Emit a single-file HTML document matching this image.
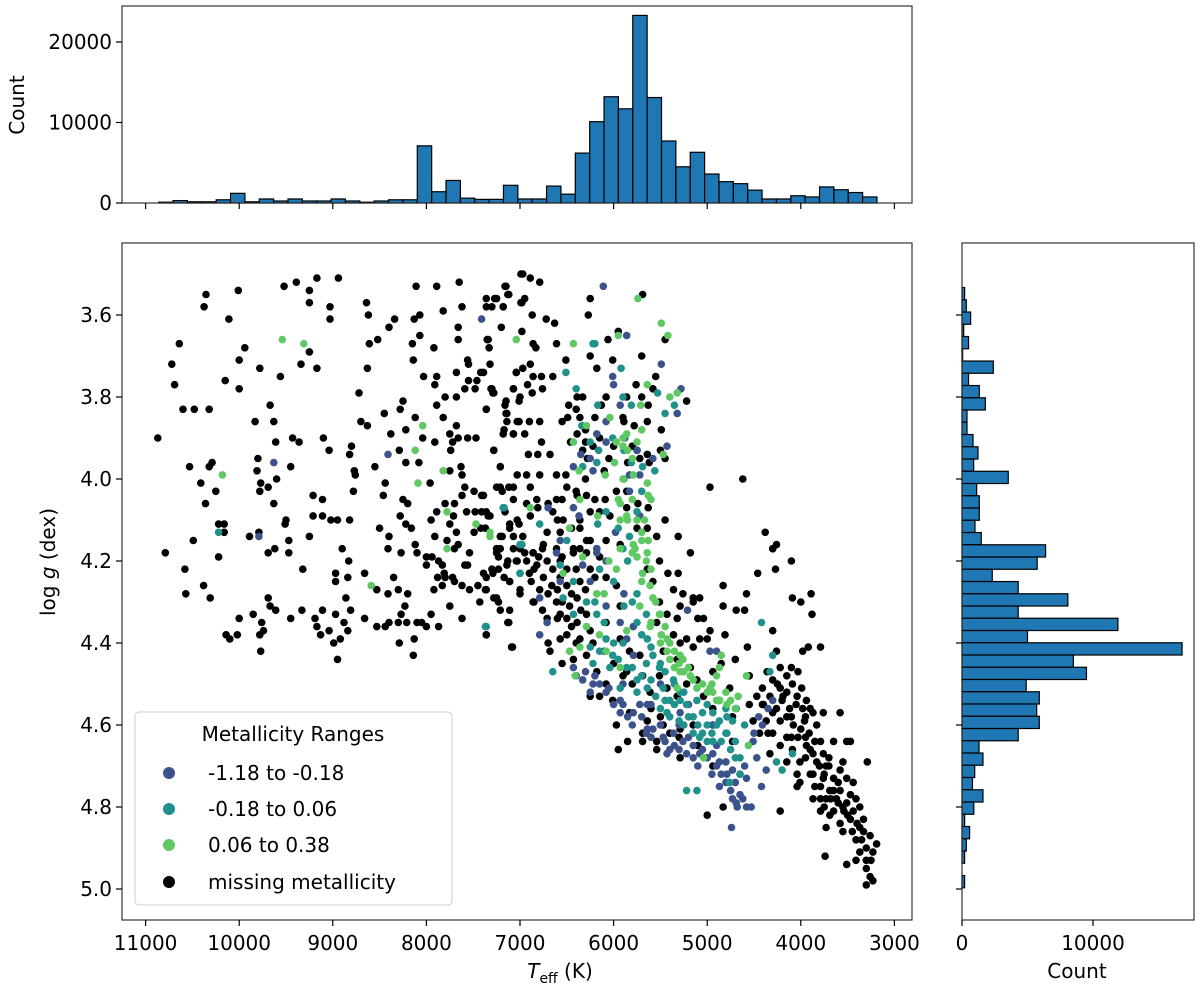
<!DOCTYPE html>
<html><head><meta charset="utf-8"><style>
body{margin:0;background:#fff;}
svg{display:block;font-family:"DejaVu Sans",sans-serif;}
</style></head><body>
<svg id="fig" width="1200" height="990" viewBox="0 0 1200 990" xmlns="http://www.w3.org/2000/svg">
<rect width="1200" height="990" fill="#fff"/>
<g id="scatter"></g>
<g id="tophist"></g>
<g id="righthist"></g>
<g id="axes"></g>
</svg>
<script>
// ---- data ----
const teffCounts=[0.1,0.3,0.15,0.15,0.4,1.2,0.15,0.5,0.25,0.5,0.25,0.25,0.5,0.25,0.1,0.25,0.4,0.4,7.1,1.4,2.8,0.6,0.45,0.45,2.2,0.5,0.5,2.1,1.1,6.2,10.1,13.2,11.7,23.3,13.1,7.7,4.5,6.3,3.6,2.65,2.4,1.6,0.5,0.5,0.9,0.75,2.0,1.65,1.3,0.75];
const teffRange=[10860,3186];
const loggCounts=[0.2,0.33,0.66,0.13,0.5,0.05,2.39,0.5,1.32,1.78,0.38,0.38,0.84,1.22,0.89,3.53,1.12,1.32,1.32,0.99,1.47,6.38,5.74,2.31,4.29,8.08,4.29,11.9,5.0,16.8,8.5,9.5,4.9,5.9,5.7,5.9,4.29,1.3,1.6,0.97,0.8,1.6,0.9,0.2,0.58,0.33,0.2,0,0.2];
const loggRange=[3.533,4.997];
const xTicks=[11000,10000,9000,8000,7000,6000,5000,4000,3000];
const yTicks=[3.6,3.8,4.0,4.2,4.4,4.6,4.8,5.0];
const countTicksTop=[0,10000,20000];
const countTicksRight=[0,10000];
const lowPts=[[7410,3.61],[8410,3.94],[9630,3.96],[9790,4.14],[6110,3.53],[5860,3.65],[5490,3.72],[6010,3.75],[6000,3.77],[5930,3.82],[5280,3.78],[5320,3.84],[6080,3.86],[6180,3.89],[5880,3.90],[6080,3.91],[6350,3.94],[6250,3.95],[5750,3.93],[5580,3.95],[5430,3.92],[6430,3.97],[6220,3.98],[5830,3.99],[5720,3.99],[6700,4.07],[6430,4.07],[6370,4.09],[5980,4.13],[5720,4.09],[6180,4.18],[6570,4.15],[5830,4.03],[6790,4.38],[6710,4.35],[6570,4.25],[6330,4.21],[6250,4.25],[6080,4.20],[6080,4.31],[5930,4.35],[5890,4.28],[5860,4.39],[5790,4.36],[5790,4.43],[6330,4.49],[6220,4.50],[6080,4.52],[5930,4.54],[5790,4.57],[5720,4.55],[5640,4.55],[5580,4.61],[5470,4.63],[5360,4.62],[5260,4.64],[5150,4.65],[5080,4.67],[5430,4.67],[5220,4.67],[4940,4.67],[4870,4.69],[4790,4.72],[4730,4.71],[4650,4.72],[4580,4.73],[4870,4.75],[4730,4.78],[4650,4.77],[4580,4.80],[4530,4.80],[4690,4.79],[4740,4.85],[4420,4.75],[4370,4.71],[4470,4.68],[4510,4.64],[4410,4.60],[4300,4.54],[4970,4.42],[4900,4.42],[5210,4.32],[6790,4.29],[6430,4.46],[6250,4.52],[5930,4.57],[5640,4.61],[5290,4.57],[4940,4.60],[6610,4.18],[6180,4.17]];
const lowPtsExtra=[[6400,4.48],[6300,4.47],[6200,4.48],[6150,4.50],[6050,4.51],[6000,4.55],[5900,4.55],[5850,4.58],[5800,4.60],[5700,4.58],[5650,4.62],[5600,4.63],[5500,4.60],[5450,4.64],[5400,4.66],[5350,4.65],[5300,4.66],[5200,4.63],[5150,4.68],[5100,4.70],[5050,4.66],[5000,4.68],[4950,4.72],[4900,4.70],[4850,4.72],[4800,4.74],[4750,4.76],[4700,4.74],[4680,4.80],[4620,4.78],[4800,4.69],[4900,4.65],[5300,4.60],[5600,4.55],[5900,4.50],[6100,4.42],[5500,4.50],[5200,4.55],[4600,4.70],[4500,4.62],[4450,4.58],[4350,4.56]];
const midPts=[[10220,4.13],[7170,4.07],[7360,4.36],[7000,4.23],[6220,3.67],[6200,3.67],[6510,3.74],[5920,3.73],[6400,3.78],[5900,3.80],[5810,3.82],[5350,3.82],[5450,3.84],[5530,3.79],[6170,3.82],[6340,3.87],[6010,3.90],[6250,3.91],[6160,3.93],[5890,3.93],[5560,3.98],[6330,3.97],[6180,3.96],[5810,3.96],[5690,3.97],[5890,4.00],[7180,4.07],[6790,4.11],[6170,4.11],[6080,4.08],[5830,4.14],[5750,4.08],[5900,4.17],[6500,4.15],[7000,4.16],[6980,4.16],[5700,4.03],[7370,4.36],[6650,4.47],[6570,4.21],[6430,4.25],[6290,4.30],[6180,4.33],[6080,4.39],[6010,4.43],[5890,4.31],[5860,4.46],[5750,4.49],[5640,4.51],[5750,4.35],[5640,4.39],[5580,4.43],[5510,4.46],[5400,4.54],[5290,4.54],[5220,4.55],[5110,4.54],[5000,4.55],[4940,4.57],[4870,4.59],[4790,4.58],[4730,4.59],[4690,4.56],[4790,4.62],[4940,4.64],[5080,4.63],[5150,4.58],[4760,4.74],[4650,4.72],[5220,4.76],[5110,4.76],[4420,4.35],[4300,4.43],[4330,4.47],[4260,4.69],[4200,4.71],[4090,4.67],[5930,4.51],[6040,4.46],[6150,4.42],[6220,4.45],[6430,4.33],[6250,4.41],[5470,4.51],[5360,4.49],[5290,4.52],[5430,4.57],[5000,4.60],[6540,4.29],[7000,4.23]];
const midPtsExtra=[[6200,4.30],[6100,4.35],[6000,4.40],[5950,4.44],[5900,4.40],[5800,4.46],[5750,4.52],[5700,4.48],[5650,4.45],[5600,4.49],[5550,4.53],[5500,4.56],[5450,4.54],[5400,4.58],[5350,4.55],[5300,4.59],[5250,4.60],[5200,4.58],[5150,4.62],[5100,4.60],[5050,4.62],[5000,4.64],[4950,4.62],[4900,4.60],[4850,4.64],[4800,4.62],[4750,4.66],[4700,4.64],[4650,4.68],[4600,4.60],[5800,4.30],[5700,4.38],[5600,4.41],[5500,4.45],[6000,4.25],[6150,4.22],[5850,4.20],[5950,4.12],[5750,4.28],[5650,4.33],[5450,4.47],[5350,4.50],[5250,4.52],[5050,4.57],[4800,4.56],[4700,4.68]];
const highPts=[[7040,3.66],[9540,3.66],[9310,3.67],[8040,3.87],[8120,3.93],[7820,3.98],[10180,3.99],[8090,4.01],[8590,4.26],[7780,4.08],[7470,4.11],[7320,4.14],[7780,4.17],[5740,3.56],[6430,3.67],[5950,3.65],[5490,3.62],[5420,3.65],[5640,3.77],[5710,3.82],[5400,3.80],[5320,3.79],[6040,3.85],[6290,3.87],[5970,3.91],[5860,3.89],[5750,3.91],[6430,3.91],[5900,3.92],[5850,3.93],[5470,3.94],[6370,3.98],[5990,3.96],[6090,3.99],[5790,3.99],[5640,4.01],[6890,4.07],[6470,4.12],[6170,4.09],[5930,4.10],[5860,4.09],[5700,4.13],[5670,4.10],[5630,4.15],[5770,4.17],[7320,4.13],[6360,4.05],[5930,4.06],[5630,4.04],[5790,4.16],[5750,4.19],[5640,4.18],[5690,4.23],[5610,4.26],[5580,4.29],[5720,4.31],[5510,4.33],[5610,4.36],[5430,4.39],[5430,4.42],[5400,4.44],[5260,4.44],[5290,4.47],[5110,4.51],[4970,4.51],[4940,4.52],[4870,4.54],[4790,4.55],[4900,4.48],[4870,4.46],[4850,4.43],[4670,4.53],[4580,4.48],[4560,4.65],[5040,4.68],[5860,4.37],[6080,4.42],[5930,4.46],[6150,4.38],[6290,4.36],[6360,4.41],[6470,4.42],[6410,4.48],[5970,4.22],[6180,4.28],[6330,4.19],[6540,4.23],[5930,4.17],[5490,4.38],[5320,4.51],[5180,4.48],[5290,4.43]];
const highPtsExtra=[[5900,4.00],[5800,4.05],[5750,4.10],[5700,4.15],[5650,4.20],[5600,4.22],[5550,4.30],[5500,4.33],[5450,4.36],[5400,4.40],[5350,4.42],[5300,4.45],[5250,4.47],[5200,4.46],[5150,4.49],[5050,4.50],[5000,4.52],[4950,4.50],[4900,4.54],[4800,4.52],[4750,4.54],[4700,4.56],[5600,4.35],[5700,4.25],[5800,4.18],[5850,4.10],[5950,4.05],[6050,4.20],[6100,4.28],[5500,4.40],[5350,4.46],[5800,3.95],[5900,3.90],[5700,3.88],[5600,4.05]];
const missingPts=[[10355,3.55],[10375,3.58],[10010,3.54],[10110,3.61],[10640,3.67],[10720,3.72],[10690,3.77],[10150,3.76],[10000,3.71],[10000,3.78],[9940,3.68],[9780,3.73],[9520,3.53],[9390,3.52],[9250,3.54],[9170,3.51],[8940,3.51],[9250,3.57],[9030,3.58],[9030,3.61],[9340,3.72],[9170,3.73],[9560,3.75],[9250,3.69],[10600,3.83],[10480,3.83],[10320,3.83],[10870,3.90],[9830,3.86],[9670,3.82],[9630,3.86],[9610,3.91],[9430,3.90],[9360,3.91],[9100,3.90],[9040,3.93],[8800,3.92],[8820,3.94],[8720,3.79],[8630,3.73],[8610,3.67],[8640,3.57],[8620,3.60],[8520,3.66],[8400,3.63],[8340,3.61],[8700,3.86],[8630,3.87],[8450,3.84],[8380,3.89],[8290,3.93],[8250,3.81],[8280,3.83],[8220,3.88],[8120,3.85],[8140,3.71],[8150,3.67],[8130,3.61],[8070,3.60],[8070,3.65],[8110,3.53],[8030,3.75],[7910,3.77],[7890,3.75],[7920,3.68],[7890,3.53],[7820,3.59],[7650,3.52],[7620,3.58],[7660,3.63],[7660,3.66],[7800,3.80],[7890,3.82],[7820,3.85],[8040,3.90],[7910,3.91],[7750,3.89],[7660,3.90],[7720,3.91],[7740,3.93],[7680,3.87],[7680,3.80],[7590,3.78],[7560,3.71],[7550,3.72],[7680,3.74],[7550,3.76],[7480,3.78],[7460,3.76],[7560,3.90],[7470,3.90],[7420,3.74],[7360,3.83],[7340,3.66],[7330,3.68],[7320,3.72],[7310,3.78],[7290,3.79],[7200,3.63],[7360,3.56],[7360,3.58],[7300,3.58],[7250,3.56],[7180,3.58],[7150,3.53],[7120,3.55],[6990,3.57],[6990,3.50],[7040,3.74],[7070,3.78],[7160,3.82],[7150,3.84],[7140,3.86],[7170,3.88],[7070,3.89],[7280,3.93],[7010,3.81],[7010,3.86],
[10530,3.97],[10320,3.97],[10290,3.96],[9800,3.95],[9810,3.98],[9450,3.97],[8770,3.98],[8550,3.97],[8220,3.96],[8080,3.96],[7630,3.97],[7210,3.97],
[10410,4.01],[10250,4.03],[10360,4.06],[10220,4.11],[10160,4.11],[10160,4.13],[10490,4.15],[10790,4.18],[10220,4.19],[10580,4.22],[10380,4.26],[10570,4.28],[10310,4.29],[9770,4.01],[9780,4.03],[9690,4.02],[9600,4.00],[9630,4.06],[9890,4.14],[9790,4.13],[9500,4.10],[9510,4.11],[9470,4.15],[9620,4.17],[9690,4.18],[9470,4.18],[9320,4.22],[9250,4.14],[9210,4.04],[9110,4.05],[9210,4.09],[9110,4.09],[9020,4.10],[8950,4.10],[8820,4.10],[8780,4.03],[8760,3.99],[8440,4.01],[8460,4.04],[8250,4.05],[8200,4.06],[8280,4.09],[8220,4.11],[8160,4.12],[8500,4.12],[8400,4.14],[8410,4.17],[8270,4.18],[8120,4.16],[8100,4.18],[8900,4.17],[8830,4.20],[8970,4.23],[8970,4.25],[8840,4.24],[8660,4.23],[8350,4.24],[8530,4.27],[8410,4.28],[8300,4.27],[8200,4.28],[8860,4.29],[8230,4.31],[8810,4.32],[9690,4.29],[9670,4.31],[9610,4.32],[10000,4.34],[9850,4.33],[9760,4.35],[10140,4.38],[10100,4.39],[10020,4.38],[9780,4.38],[9740,4.37],[9770,4.42],[9450,4.34],[9330,4.32],[9190,4.34],[9110,4.32],[9170,4.36],[9040,4.37],[9130,4.38],[8970,4.33],[8880,4.35],[8840,4.37],[8920,4.39],[8990,4.40],[8950,4.44],[8660,4.34],[8530,4.36],[8400,4.35],[8440,4.36],[8300,4.35],[8270,4.33],[8210,4.35],[8100,4.35],[8050,4.35],[8000,4.36],[7870,4.36],[8130,4.39],[8290,4.40],[8140,4.43],[7950,4.33],
[7960,4.01],[7750,3.98],[7620,3.99],[7590,4.02],[7490,4.03],[7410,4.04],[7620,4.04],[7800,4.06],[7890,4.08],[7700,4.06],[7710,4.09],[7570,4.08],[7480,4.08],[7410,4.08],[7340,4.09],[7950,4.10],[7750,4.11],[7680,4.13],[7490,4.13],[7420,4.12],[7910,4.14],[7780,4.15],[7660,4.16],[7540,4.18],[7700,4.17],[8000,4.19],[7940,4.19],[7870,4.20],[8000,4.21],[7830,4.21],[7810,4.23],[7880,4.24],[7800,4.24],[7720,4.24],[7700,4.25],[7620,4.26],[7590,4.21],[7560,4.21],[7920,4.27],[7830,4.26],[7750,4.31],[7620,4.34],[7540,4.27],[7450,4.26],[7430,4.30],[7360,4.24],[7300,4.22],[7230,4.22],[7170,4.24],[7110,4.25],[7250,4.18],[7230,4.19],[7130,4.20],[7040,4.20],[7010,4.11],[7110,4.11],[7190,4.14],[7070,4.14],[7250,4.02],[7190,4.03],[7120,4.02],[7030,3.99],[7280,4.29],[7230,4.30],[7210,4.32],[7370,4.27],[7120,4.35],[7080,4.41],[7360,4.38],[7000,4.28],
[6970,3.50],[6890,3.51],[6790,3.52],[7160,3.53],[7130,3.55],[7270,3.56],[7180,3.58],[6980,3.57],[6950,3.56],[6870,3.60],[6720,3.61],[6630,3.62],[6980,3.64],[7350,3.66],[6860,3.67],[6830,3.68],[6610,3.67],[6250,3.56],[6270,3.60],[5690,3.55],[6510,3.71],[6250,3.70],[6180,3.73],[6060,3.66],[6010,3.71],[5950,3.64],[5700,3.70],[5450,3.66],[7390,3.74],[7300,3.78],[7280,3.79],[7040,3.74],[6970,3.73],[6890,3.72],[6860,3.75],[6770,3.75],[6650,3.75],[7070,3.78],[6920,3.77],[6760,3.78],[7000,3.80],[6870,3.79],[7360,3.83],[7150,3.81],[7140,3.84],[7030,3.86],[6900,3.86],[6790,3.86],[7180,3.89],[7070,3.89],[6950,3.89],[6770,3.91],[7280,3.93],[6910,3.94],[6810,3.94],[6680,3.94],[6390,3.80],[6480,3.82],[6400,3.83],[6330,3.80],[6490,3.85],[6360,3.85],[6550,3.86],[6130,3.82],[6080,3.80],[6390,3.89],[6460,3.91],[6300,3.91],[6220,3.92],[6280,3.95],[6330,3.93],[5890,3.86],[5780,3.87],[5640,3.86],[5490,3.88],[5860,3.80],[5760,3.77],[5630,3.82],[5580,3.78],[5550,3.75],[5700,3.80],[5220,3.81],[5450,3.95],[5500,3.93],[5750,3.93],[5850,3.96],[5640,3.94],[5720,3.95],[5620,3.96],[4620,4.00],[4970,4.02],[4380,4.13],[4260,4.16],[4300,4.17],
[7210,3.97],[7390,4.04],[7210,4.02],[7070,4.02],[6890,4.02],[6790,3.99],[6930,3.99],[6610,3.99],[6510,3.99],[6500,4.02],[6390,4.04],[6290,4.04],[6610,4.05],[6820,4.05],[6930,4.06],[7070,4.05],[7360,4.08],[7320,4.09],[7160,4.08],[7030,4.10],[6890,4.09],[6810,4.07],[6650,4.08],[6540,4.10],[6570,4.13],[6360,4.10],[6250,4.08],[6090,4.05],[6150,4.08],[6040,4.09],[5970,4.03],[5860,4.03],[5860,4.07],[5740,4.06],[5630,4.07],[5750,4.12],[5640,4.12],[5540,4.14],[5450,4.10],[5310,4.14],[7370,4.12],[7210,4.14],[7110,4.12],[6970,4.14],[6710,4.13],[6760,4.17],[6860,4.18],[7210,4.17],[7070,4.17],[6610,4.17],[6430,4.17],[6290,4.15],[6180,4.17],[6290,4.18],[6080,4.15],[5930,4.16],[6360,4.12],
[7250,4.17],[7390,4.23],[7290,4.23],[7140,4.21],[7030,4.20],[6930,4.20],[6820,4.21],[6710,4.20],[6860,4.18],[7000,4.17],[7360,4.27],[7250,4.29],[7110,4.25],[7000,4.27],[6880,4.25],[6790,4.27],[6660,4.26],[6570,4.24],[6500,4.22],[6570,4.20],[6430,4.18],[6360,4.17],[7110,4.32],[7130,4.35],[7360,4.38],[7090,4.41],[6860,4.30],[6760,4.32],[6610,4.30],[6710,4.34],[6570,4.33],[6470,4.31],[6390,4.29],[6360,4.25],[6680,4.42],[6570,4.39],[6500,4.38],[6390,4.35],[6290,4.33],[6360,4.39],[6430,4.44],[6250,4.37],[6220,4.40],[6290,4.43],[6180,4.47],[6080,4.50],[6250,4.53],[6150,4.53],[6010,4.54],[5970,4.60],[5850,4.64],[5690,4.64],[5950,4.66],[5540,4.66],[5290,4.68],[5000,4.82],[4830,4.80],[4940,4.70],[6250,4.22],[6150,4.19],[6080,4.24],[5970,4.26],[5930,4.31],[6080,4.35],[5930,4.39],[5830,4.42],[5720,4.43],[5860,4.47],[5690,4.48],[5610,4.52],[5510,4.48],[5430,4.51],[5320,4.53],[5220,4.50],[5180,4.46],[5320,4.44],[5470,4.42],[5290,4.40],[5360,4.38],[5220,4.39],[5150,4.41],[5540,4.35],[5430,4.33],[5320,4.34],[5290,4.31],[5510,4.30],[5580,4.25],[5640,4.22],[5510,4.20],[5360,4.27],[5420,4.23],[5260,4.28],[5150,4.30],[5100,4.34],[5000,4.39],[5110,4.49],[5040,4.53],[4940,4.56],[4870,4.54],[4760,4.51],[4730,4.58],[4940,4.60],[4730,4.64],[5150,4.60],[5290,4.61],[5470,4.60],[5640,4.59],[5830,4.57],[5690,4.62],[5540,4.64],
[5180,4.18],[4300,4.17],[4100,4.20],[4460,4.23],[4270,4.22],[4830,4.26],[5310,4.23],[5150,4.29],[5080,4.29],[4830,4.31],[4690,4.32],[4600,4.32],[4580,4.28],[4090,4.29],[4000,4.30],[3890,4.28],[3880,4.33],[4300,4.37],[4810,4.38],[4970,4.37],[5040,4.34],[5080,4.39],[4570,4.41],[4260,4.42],[3980,4.42],[3920,4.41],[3790,4.41],[4700,4.44],[4940,4.47],[4850,4.45],[4550,4.48],
[4360,4.47],[4220,4.46],[4100,4.46],[4030,4.47],[4150,4.48],[4300,4.49],[4410,4.51],[4220,4.51],[4090,4.50],[3990,4.51],[4470,4.53],[4330,4.53],[4190,4.53],[4040,4.53],[3940,4.54],[4550,4.55],[4410,4.55],[4260,4.56],[4120,4.56],[3980,4.56],[3870,4.57],[3760,4.57],[3580,4.57],[4510,4.59],[4370,4.59],[4220,4.59],[4080,4.60],[3960,4.59],[3830,4.60],[4440,4.62],[4300,4.62],[4150,4.63],[4030,4.63],[3910,4.62],[3790,4.64],[3650,4.64],[3470,4.64],[3290,4.69],[4220,4.65],[4090,4.66],[3940,4.65],[3870,4.67],[3760,4.67],[4330,4.67],[4150,4.69],[4010,4.69],[3830,4.69],[3730,4.70],[3580,4.71],[3870,4.72],[3760,4.73],[3650,4.73],[3510,4.73],[3440,4.74],[4040,4.72],[4010,4.74],[3790,4.75],[3690,4.76],[3580,4.76],[3470,4.77],[3730,4.78],[3620,4.78],[3510,4.79],[3410,4.78],[3790,4.78],[3650,4.81],[3540,4.81],[3440,4.81],[3690,4.82],[3580,4.84],[3470,4.83],[3370,4.85],[3730,4.85],[3330,4.86],[3260,4.87],[3190,4.89],[3410,4.88],[3300,4.90],[3370,4.91],[3230,4.91],[3410,4.93],[3300,4.93],[3510,4.94],[3740,4.92],[3260,4.97],[3300,4.99],[3230,4.98],[3510,4.64],[4220,4.81],[4040,4.75],[3870,4.78],[3790,4.81],[3370,4.80],[3330,4.83],[3700,4.70],[3600,4.74],[3550,4.69],[3950,4.68],[4150,4.58],[3900,4.56],[3680,4.78]];
const missingPtsExtra=[[6950,4.18],[6850,4.22],[6750,4.24],[6700,4.28],[6600,4.27],[6650,4.22],[6550,4.30],[6500,4.34],[6450,4.36],[6400,4.40],[6350,4.32],[6300,4.27],[6500,4.26],[6600,4.34],[6450,4.28],[6800,4.19],[6900,4.23],[6750,4.16],[6550,4.19],[6400,4.22],[6200,4.24],[6250,4.15],[6450,4.12],[6600,4.10],[6700,4.06],[6550,4.05],[6400,4.03],[6300,4.00],[6200,4.05],[6100,3.98],[6050,3.95],[6150,3.90],[6000,3.92],[5900,3.85],[5800,3.92],[6300,3.88],[6200,3.85],[6000,4.45],[5900,4.48],[5800,4.50],[5600,4.56],[5500,4.58],[5400,4.62],[5300,4.63],[5100,4.65],[6700,4.40],[6550,4.45],[6850,4.30],[4400,4.55],[4300,4.57],[4200,4.54],[4100,4.58],[4000,4.61],[3950,4.63],[3900,4.66],[3850,4.64],[3800,4.70],[3750,4.72],[3700,4.68],[3650,4.76],[3600,4.79],[3550,4.80],[3500,4.82],[3450,4.86],[3400,4.84],[3350,4.88],[3300,4.95],[3250,4.93],[4250,4.50],[4150,4.52],[4050,4.55],[3950,4.58],[4350,4.62],[4100,4.63],[3900,4.72],[3850,4.75],[3750,4.80],[3550,4.86]];

// ---- axes geometry ----
const M={l:122,r:912,t:243,b:920};
const X=T=>145.6+(11000-T)*0.0936;
const Y=g=>315+(g-3.6)*410;
const TH={l:122,r:912,t:6,b:203};
const HY=c=>203-c*8.05;   // c in thousands
const RH={l:962,r:1194,t:243,b:920};
const HX=c=>962+c*13.1;
const NS='http://www.w3.org/2000/svg';
function el(tag,attrs,parent){const e=document.createElementNS(NS,tag);for(const k in attrs)e.setAttribute(k,attrs[k]);parent.appendChild(e);return e;}

// scatter
const sc=document.getElementById('scatter');
function drawSeries(pts,color,name){
  const g=el('g',{},sc);
  
  
  for(const p of pts){
    const c=el('circle',{cx:X(p[0]).toFixed(1),cy:Y(p[1]).toFixed(1),r:3.8,fill:color},g);
    
    
  }
}
drawSeries(missingPts.concat(missingPtsExtra),'#000000','missing-metallicity-series');
drawSeries(lowPts.concat(lowPtsExtra),'#3b528b','low-metallicity-series');
drawSeries(midPts.concat(midPtsExtra),'#21918c','mid-metallicity-series');
drawSeries(highPts.concat(highPtsExtra),'#5ec962','high-metallicity-series');

// top histogram
const th=document.getElementById('tophist');
const tw=(teffRange[0]-teffRange[1])/teffCounts.length;
teffCounts.forEach((c,i)=>{
  const x0=X(teffRange[0]-i*tw),x1=X(teffRange[0]-(i+1)*tw);
  const r=el('rect',{x:x0.toFixed(2),y:HY(c).toFixed(2),width:(x1-x0).toFixed(2),height:(203-HY(c)).toFixed(2),fill:'#1f77b4',stroke:'#000','stroke-width':1.2},th);
  
  
});
// right histogram
const rh=document.getElementById('righthist');
const gw=(loggRange[1]-loggRange[0])/loggCounts.length;
loggCounts.forEach((c,i)=>{
  const y0=Y(loggRange[0]+i*gw),y1=Y(loggRange[0]+(i+1)*gw);
  const r=el('rect',{x:962,y:y0.toFixed(2),width:(HX(c)-962).toFixed(2),height:(y1-y0).toFixed(2),fill:'#1f77b4',stroke:'#000','stroke-width':1.2},rh);
  
  
});

// axes frames & ticks
const ax=document.getElementById('axes');
function frame(b,name){const r=el('rect',{x:b.l,y:b.t,width:b.r-b.l,height:b.b-b.t,fill:'none',stroke:'#333','stroke-width':1.2},ax);}
frame(M,'main-plot-frame');frame(TH,'teff-hist-frame');frame(RH,'logg-hist-frame');
function txt(s,x,y,anchor,name,extra){const t=el('text',Object.assign({x:x,y:y,'text-anchor':anchor,'font-size':20,fill:'#000'},extra||{}),ax);t.textContent=s;return t;}
xTicks.forEach(v=>{
  const x=X(v);
  el('line',{x1:x,y1:M.b,x2:x,y2:M.b+6,stroke:'#000','stroke-width':1.2},ax);
  el('line',{x1:x,y1:TH.b,x2:x,y2:TH.b+6,stroke:'#000','stroke-width':1.2},ax);
  txt(String(v),x,M.b+30,'middle','x-tick-label');
});
yTicks.forEach(v=>{
  const y=Y(v);
  el('line',{x1:M.l-6,y1:y,x2:M.l,y2:y,stroke:'#000','stroke-width':1.2},ax);
  el('line',{x1:RH.l-6,y1:y,x2:RH.l,y2:y,stroke:'#000','stroke-width':1.2},ax);
  txt(v.toFixed(1),M.l-10,y+7,'end','y-tick-label');
});
countTicksTop.forEach(v=>{
  const y=HY(v/1000);
  el('line',{x1:TH.l-6,y1:y,x2:TH.l,y2:y,stroke:'#000','stroke-width':1.2},ax);
  txt(String(v),TH.l-10,y+7,'end','count-tick-label');
});
countTicksRight.forEach(v=>{
  const x=HX(v/1000);
  el('line',{x1:x,y1:RH.b,x2:x,y2:RH.b+6,stroke:'#000','stroke-width':1.2},ax);
  txt(String(v),x,RH.b+30,'middle','count-tick-label');
});
</script>
<svg style="position:absolute;left:0;top:0" width="1200" height="990">
<g font-family="DejaVu Sans, sans-serif" font-size="20" fill="#000">
<text transform="translate(24,105) rotate(-90)" text-anchor="middle">Count</text>
<text transform="translate(55,562) rotate(-90)" text-anchor="middle">log <tspan font-style="italic">g</tspan> (dex)</text>
<text x="560" y="978" text-anchor="middle"><tspan font-style="italic">T</tspan><tspan font-size="14" dy="5">eff</tspan><tspan dy="-5"> (K)</tspan></text>
<text x="1077" y="978" text-anchor="middle">Count</text>
</g>
<g>
<rect x="135" y="712" width="317" height="193" rx="4" fill="#fff" fill-opacity="0.85" stroke="#ccc"/>
<text x="293" y="741" text-anchor="middle" font-family="DejaVu Sans, sans-serif" font-size="20">Metallicity Ranges</text>
<g font-family="DejaVu Sans, sans-serif" font-size="20">
<g><circle cx="169" cy="773" r="6" fill="#3b528b"/><text x="208" y="780">-1.18 to -0.18</text></g>
<g><circle cx="169" cy="809" r="6" fill="#21918c"/><text x="208" y="816">-0.18 to 0.06</text></g>
<g><circle cx="169" cy="845" r="6" fill="#5ec962"/><text x="208" y="852">0.06 to 0.38</text></g>
<g><circle cx="169" cy="882" r="6" fill="#000"/><text x="208" y="889">missing metallicity</text></g>
</g>
</g>
</svg>
</body></html>
